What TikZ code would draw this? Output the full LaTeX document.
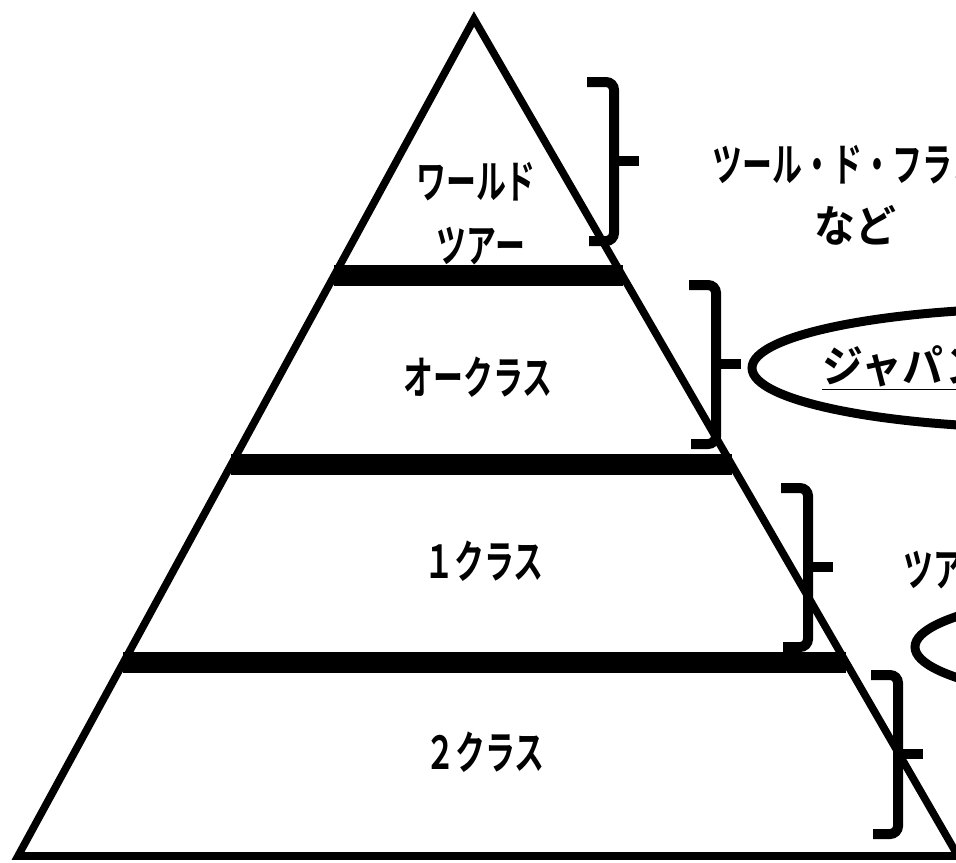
\documentclass[tikz,border=0pt]{standalone}
\usepackage{fontspec}
\newfontfamily\jp[FakeStretch=0.66]{Noto Sans CJK JP Bold}
\newfontfamily\jpw[FakeStretch=0.93]{Noto Sans CJK JP Bold}
\usetikzlibrary{positioning,calc}

\begin{document}
\begin{tikzpicture}[x=0.5pt,y=-0.5pt,line join=miter,
  lbl/.style={font=\jp\fontsize{22.7}{26}\selectfont,inner sep=0pt},
  lblw/.style={font=\jpw\fontsize{22}{26}\selectfont,inner sep=0pt},
  edge/.style={line width=3.8pt},
  band/.style={line width=10.5pt},
  brk/.style={line width=5pt,rounded corners=4pt},
  oval/.style={line width=4.5pt}]
\useasboundingbox (0,0) rectangle (956,862);
\clip (0,0) rectangle (956,862);
% pyramid
\coordinate (top) at (474,19);
\coordinate (bl) at (18,856);
\coordinate (br) at (958,856);
\draw[edge] (top) -- (bl) -- (br) -- cycle;
\foreach \t in {0.307,0.532,0.769}
  \draw[band] ($(top)!\t!(bl)$) -- ($(top)!\t!(br)$);
% levels
\node[lbl] (wt) at (476,182) {ワールド};
\node[lbl] (tour) at (481,246) {ツアー};
\node[lbl] (oc) at (478,377) {オークラス};
\node[lbl] (c1) at (484,561) {１クラス};
\node[lbl] (c2) at (485,752) {２クラス};
% brackets
\foreach \bx/\by in {614/82,716/285,808/488,898/675}{
  \draw[brk] (\bx-27,\by) -- (\bx,\by) -- (\bx,\by+159) -- (\bx-25,\by+159);
  \draw[brk] (\bx,\by+79) -- ++(25,0);
}
% races
\node[lbl,anchor=west] (tdf) at (712,165) {ツール・ド・フランス};
\node[lblw] (nado) at (855,225) {など};
\draw[oval] (1052,368) ellipse [x radius=300,y radius=60];
\node[lblw,anchor=west] (jt) at (822,368) {\underline{ジャパン}};
\node[lbl,anchor=west] (ta) at (903,570) {ツア};
\draw[oval] (1215,647) ellipse [x radius=300,y radius=60];
\end{tikzpicture}
\end{document}
